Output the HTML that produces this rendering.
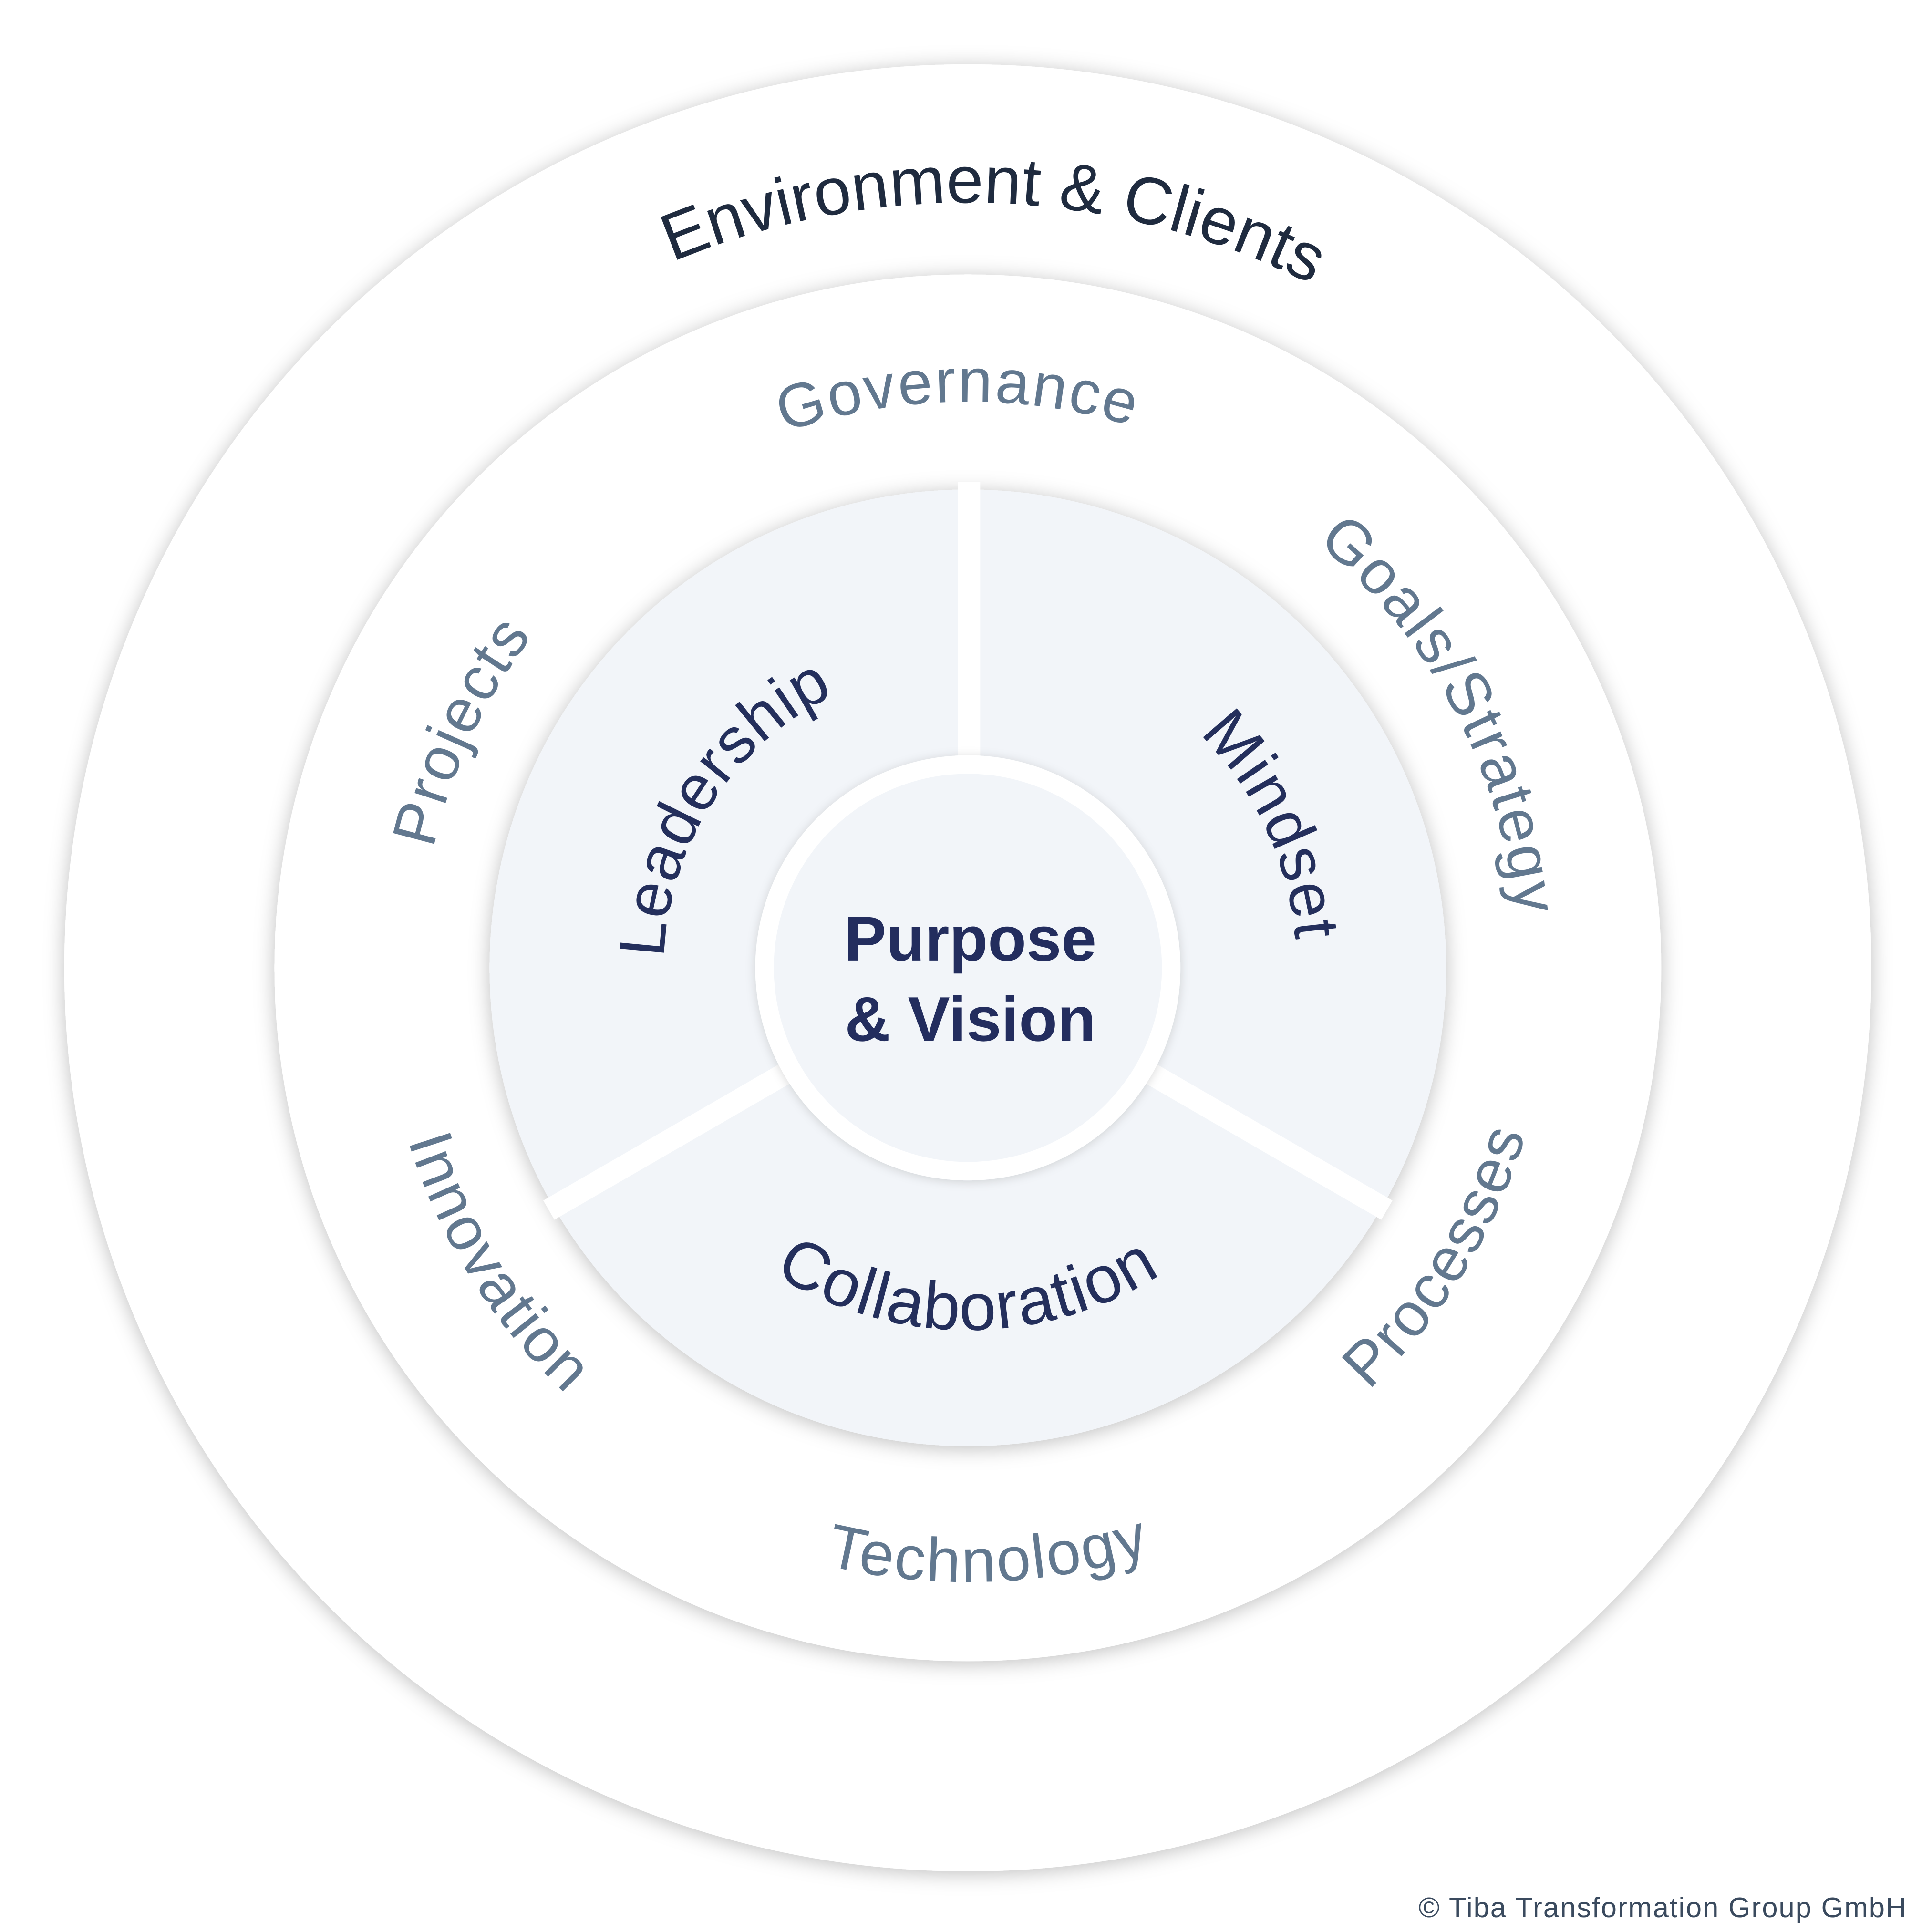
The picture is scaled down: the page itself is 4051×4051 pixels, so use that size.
<!DOCTYPE html>
<html><head><meta charset="utf-8"><style>
html,body{margin:0;padding:0;background:#fff;}
svg{display:block;}
</style></head><body>
<svg xmlns="http://www.w3.org/2000/svg" width="4051" height="4051" viewBox="0 0 1563 1563">
<defs>
<filter id="sh" x="-20%" y="-20%" width="140%" height="140%">
<feDropShadow dx="0" dy="2" stdDeviation="8" flood-color="#000" flood-opacity="0.25"/>
</filter>
<filter id="sh2" x="-20%" y="-20%" width="140%" height="140%">
<feDropShadow dx="0" dy="1" stdDeviation="4" flood-color="#000" flood-opacity="0.15"/>
</filter>
<path id="env" d="M164,783 A619,619 0 0 1 1402,783"/>
<path id="gov" d="M325,783 A458,458 0 0 1 1241,783"/>
<path id="goals" d="M338,783 A445,445 0 0 1 1228,783"/>
<path id="proj" d="M340,783 A443,443 0 0 1 1226,783"/>
<path id="lead" d="M537,783 A246,246 0 0 1 1029,783"/>
<path id="mind" d="M517,783 A266,266 0 0 1 1049,783"/>
<path id="proc" d="M312,783 A471,471 0 0 0 1254,783"/>
<path id="tech" d="M286,783 A497,497 0 0 0 1280,783"/>
<path id="inno" d="M309,783 A474,474 0 0 0 1257,783"/>
<path id="coll" d="M490,783 A293,293 0 0 0 1076,783"/>
</defs>
<rect width="1563" height="1563" fill="#fff"/>
<circle cx="783" cy="783" r="731" fill="#fff" filter="url(#sh)"/>
<circle cx="783" cy="783" r="561" fill="#fff" filter="url(#sh)"/>
<circle cx="783" cy="783" r="387" fill="#f2f5f9" filter="url(#sh)"/>
<g stroke="#fff" stroke-width="18">
<line x1="784" y1="783" x2="784" y2="390"/>
<line x1="783" y1="783" x2="1122" y2="979"/>
<line x1="783" y1="783" x2="444" y2="979"/>
</g>
<circle cx="783" cy="783" r="172" fill="#fff" filter="url(#sh2)"/>
<circle cx="783" cy="783" r="157" fill="#f2f5f9"/>
<g font-family="Liberation Sans, sans-serif" text-anchor="middle">
<text font-size="54" fill="#1f2b3f" transform="rotate(2 783 783)"><textPath href="#env" startOffset="50%">Environment &amp; Clients</textPath></text>
<g font-size="50" fill="#62788f" letter-spacing="1.5">
<text transform="rotate(-1 783 783)"><textPath href="#gov" startOffset="50%">Governance</textPath></text>
<text transform="rotate(62 783 783)"><textPath href="#goals" startOffset="50%">Goals/Strategy</textPath></text>
<text transform="rotate(-65 783 783)"><textPath href="#proj" startOffset="50%">Projects</textPath></text>
<text transform="rotate(-58.5 783 783)"><textPath href="#proc" startOffset="50%">Processes</textPath></text>
<text transform="rotate(-2 783 783)"><textPath href="#tech" startOffset="50%">Technology</textPath></text>
<text transform="rotate(58 783 783)"><textPath href="#inno" startOffset="50%">Innovation</textPath></text>
</g>
<g font-size="52" fill="#242f5c" letter-spacing="1">
<text transform="rotate(-57 783 783)"><textPath href="#lead" startOffset="50%">Leadership</textPath></text>
<text transform="rotate(65 783 783)"><textPath href="#mind" startOffset="50%">Mindset</textPath></text>
<text font-size="54"><textPath href="#coll" startOffset="50%">Collaboration</textPath></text>
</g>
<text x="785" y="777" font-size="51" font-weight="bold" fill="#232d5e">Purpose</text>
<text x="785" y="842" font-size="51" font-weight="bold" fill="#232d5e">&amp; Vision</text>
</g>
<text x="1543" y="1551" font-family="Liberation Sans, sans-serif" font-size="23" letter-spacing="0.8" fill="#3a4a5e" text-anchor="end">© Tiba Transformation Group GmbH</text>
</svg>
</body></html>
